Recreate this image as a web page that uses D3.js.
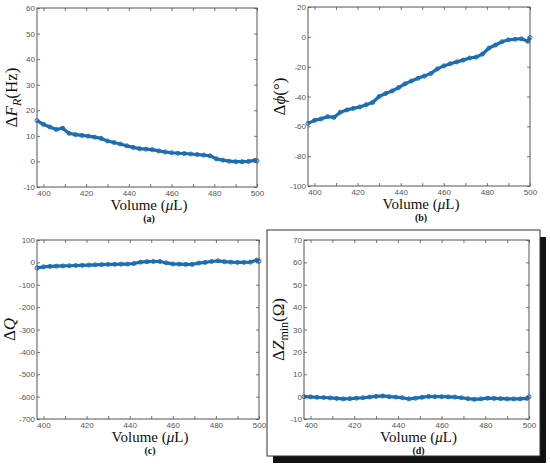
<!DOCTYPE html>
<html><head><meta charset="utf-8">
<script src="https://cdn.jsdelivr.net/npm/d3@7"></script>
<style>
body{margin:0;background:#fff;}
svg{display:block;}
.tick text{font-family:"Liberation Sans",Arial,sans-serif;font-size:8px;fill:#555;}
.lbl{font-family:"Liberation Serif","Times New Roman",serif;fill:#111;}
</style></head>
<body>
<svg id="c" width="550" height="466"></svg>
<script>
const volume = [397,400,403,406,409,412,415,418,421,424,427,430,433,436,439,442,445,448,451,454,457,460,463,466,469,472,475,478,481,484,487,490,493,496,499,500];
const deltaFR = [16,14.5,13.5,12.5,13,11,10.5,10.2,9.9,9.5,9.0,8.0,7.4,6.8,6.1,5.5,5.0,4.8,4.6,4.1,3.7,3.4,3.2,3.1,2.9,2.7,2.5,2.2,1.0,0.5,0.1,-0.1,-0.1,0.0,0.4,0.2];
const deltaPhi = [-58,-56,-55,-53.5,-54,-50.5,-49,-48,-47,-45.5,-44,-40,-38,-36.3,-34,-31.5,-29.6,-27.8,-26.3,-24.5,-21.5,-19.5,-18,-16.8,-15.6,-14.2,-13.6,-11.5,-7.5,-5.5,-3.3,-2,-1.6,-1.3,-3,-0.5];
const deltaQ = [-25,-20,-18,-17,-16,-15,-14,-13,-12,-11,-10,-9,-8.5,-8,-7.5,-5,1,3,4,4,-2,-7,-8,-9,-9,-3,0,4,7,3,1,0,0,1,10,5];
const deltaZ = [0,-0.1,-0.3,-0.4,-0.6,-0.8,-1,-0.9,-0.7,-0.5,-0.2,0.1,0.3,0,-0.2,-0.5,-1,-0.7,-0.3,0.1,0,0,-0.1,-0.2,-0.5,-0.9,-1.2,-1,-0.7,-0.8,-0.9,-1,-1,-1,-0.8,0];

const xTicks = [400,410,420,430,440,450,460,470,480,490,500];
const xDomain = [397,500];
const yTicksA = [-10,0,10,20,30,40,50,60];
const yTicksB = [-100,-80,-60,-40,-20,0,20];
const yTicksC = [-700,-600,-500,-400,-300,-200,-100,0,100];
const yTicksD = [-10,0,10,20,30,40,50,60,70];

const svg = d3.select("#c");
const blue = "#1a6db3";

// frame with shadow for panel (d)
svg.append("rect").attr("x",546-273).attr("y",456).attr("width",273).attr("height",7).attr("fill","#111");
svg.append("rect").attr("x",540).attr("y",237).attr("width",6).attr("height",226).attr("fill","#111");
svg.append("rect").attr("x",267).attr("y",230).attr("width",273).attr("height",226).attr("fill","#fff").attr("stroke","#333").attr("stroke-width",1);

function panel(cfg){
  const {x0,y0,x1,y1,vals,yTicks,caption,ylab,ylx} = cfg;
  const x = d3.scaleLinear().domain(xDomain).range([x0,x1]);
  const y = d3.scaleLinear().domain([yTicks[0], yTicks[yTicks.length-1]]).range([y1,y0]);
  const g = svg.append("g");
  const pts = volume.map((v,i)=>[v,vals[i]]);
  g.append("path").attr("d", d3.line().x(d=>x(d[0])).y(d=>y(d[1]))(pts))
    .attr("fill","none").attr("stroke",blue).attr("stroke-width",3.2).attr("stroke-linejoin","round");
  g.selectAll("circle").data(pts).enter().append("circle")
    .attr("cx",d=>x(d[0])).attr("cy",d=>y(d[1])).attr("r",2)
    .attr("fill","none").attr("stroke",blue).attr("stroke-width",1);
  const ax = (axis, tx, ty) => {
    const a = g.append("g").attr("transform",`translate(${tx},${ty})`).call(axis);
    a.select(".domain").remove();
    a.selectAll(".tick line").attr("stroke","#555").attr("stroke-width",0.8);
    return a;
  };
  ax(d3.axisBottom(x).tickValues(xTicks).tickSize(-3).tickPadding(3).tickFormat(d=>d%20===0?String(d):""),0,y1);
  ax(d3.axisTop(x).tickValues(xTicks).tickSize(-3).tickFormat(""),0,y0);
  ax(d3.axisLeft(y).tickValues(yTicks).tickSize(-3).tickPadding(2).tickFormat(d=>String(d)),x0,0);
  ax(d3.axisRight(y).tickValues(yTicks).tickSize(-3).tickFormat(""),x1,0);
  g.append("rect").attr("x",x0).attr("y",y0).attr("width",x1-x0).attr("height",y1-y0)
    .attr("fill","none").attr("stroke","#555").attr("stroke-width",1);
  const cx = (x0+x1)/2+2;
  const vl = g.append("text").attr("class","lbl").attr("x",cx).attr("y",y1+23)
    .attr("text-anchor","middle").attr("font-size",15);
  vl.append("tspan").text("Volume (");
  vl.append("tspan").attr("font-style","italic").text("μ");
  vl.append("tspan").text("L)");
  g.append("text").attr("class","lbl").attr("x",cx).attr("y",y1+35).attr("text-anchor","middle")
    .attr("font-size",10).attr("font-weight","bold").text(caption);
  const yl = g.append("text").attr("class","lbl").attr("font-size",17).attr("text-anchor","middle")
    .attr("transform",`translate(${ylx},${(y0+y1)/2}) rotate(-90)`);
  ylab(yl);
}

panel({x0:37,y0:8,x1:257,y1:187,vals:deltaFR,yTicks:yTicksA,caption:"(a)",ylx:17,
  ylab:t=>{t.append("tspan").text("Δ");t.append("tspan").attr("font-style","italic").text("F");
    t.append("tspan").attr("font-style","italic").attr("font-size",12).attr("dy",4).text("R");
    t.append("tspan").attr("dy",-4).text("(Hz)");}});
panel({x0:308,y0:7,x1:530,y1:186,vals:deltaPhi,yTicks:yTicksB,caption:"(b)",ylx:285,
  ylab:t=>{t.append("tspan").text("Δ");t.append("tspan").attr("font-style","italic").text("ϕ");
    t.append("tspan").text("(°)");}});
panel({x0:37,y0:240,x1:259,y1:419,vals:deltaQ,yTicks:yTicksC,caption:"(c)",ylx:15,
  ylab:t=>{t.append("tspan").text("Δ");t.append("tspan").attr("font-style","italic").text("Q");}});
panel({x0:304,y0:240,x1:529,y1:419,vals:deltaZ,yTicks:yTicksD,caption:"(d)",ylx:284,
  ylab:t=>{t.append("tspan").text("Δ");t.append("tspan").attr("font-style","italic").text("Z");
    t.append("tspan").attr("font-size",12).attr("dy",4).text("min");
    t.append("tspan").attr("dy",-4).text("(Ω)");}});
</script>
</body></html>
